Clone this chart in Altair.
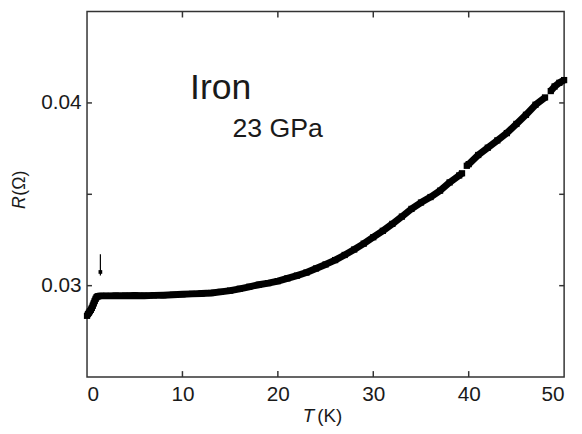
import altair as alt
import pandas as pd

# ---- data ----
T_vals = [0.0, 0.1, 0.2, 0.3, 0.4, 0.5, 0.6, 0.7, 0.8, 0.9, 1.0, 1.1, 1.2, 1.5,
          2, 3, 4, 5, 6, 7, 8, 9, 10, 11, 12, 13, 14, 15, 16, 17, 18, 19, 20,
          21, 22, 23, 24, 25, 26, 27, 28, 29, 30, 31, 32, 33, 34, 35, 36, 37,
          38, 39, 39.3,
          39.8, 40, 41, 42, 43, 44, 45, 46, 47, 48,
          48.6, 49, 49.5, 50]
R_vals = [0.02835, 0.02845, 0.02852, 0.02860, 0.02868, 0.02878, 0.02890, 0.02903,
          0.02916, 0.02928, 0.02937, 0.02941, 0.02943, 0.02944,
          0.02944, 0.02945, 0.02945, 0.02946, 0.02945, 0.02947, 0.02948, 0.02950,
          0.02953, 0.02955, 0.02957, 0.02960, 0.02966, 0.02973, 0.02983, 0.02994,
          0.03005, 0.03014, 0.03025, 0.03040, 0.03055, 0.03072, 0.03094, 0.03116,
          0.03140, 0.03168, 0.03198, 0.03230, 0.03265, 0.03300, 0.03338, 0.03378,
          0.03420, 0.03455, 0.03485, 0.03520, 0.03565, 0.03603, 0.03615,
          0.03656, 0.03665, 0.03715, 0.03755, 0.03795, 0.03835, 0.03885, 0.03935,
          0.03990, 0.04030,
          0.04065, 0.04090, 0.04110, 0.04125]
SEG = [1] * 53 + [2] * 10 + [3] * 4

x_ticks = [0, 10, 20, 30, 40, 50]
y_ticks = [0.03, 0.04]
x_inner_ticks = [10, 20, 30, 40]
y_inner_ticks = [0.03, 0.035, 0.04]

arrow_T = [1.4]
arrow_R_top = [0.03172]
arrow_R_bottom = [0.03055]
arrow_head_R = [0.03075]

label_main = "Iron"
label_main_T, label_main_R = 10.8, 0.0402
label_sub = "23 GPa"
label_sub_T, label_sub_R = 15.25, 0.03814

# ---- chart ----
W, H = 483, 370
FONT = "Liberation Sans"
TXT = "#1a1a1a"
FRAME = "#333333"

df = pd.DataFrame({"T": T_vals, "R": R_vals, "seg": SEG})

xs = alt.Scale(domain=[0, 50], nice=False, zero=False)
ys = alt.Scale(domain=[0.025, 0.045], nice=False, zero=False)

x_axis = alt.Axis(values=x_ticks, ticks=False, domain=False, grid=False,
                  labelFontSize=21, labelPadding=7, labelColor=TXT,
                  labelFont=FONT, title=None)
y_axis = alt.Axis(values=y_ticks, format=".2f", ticks=False, domain=False,
                  grid=False, labelFontSize=21, labelPadding=6,
                  labelColor=TXT, labelFont=FONT, title=None)

X = alt.X("T:Q", scale=xs, axis=x_axis)
Y = alt.Y("R:Q", scale=ys, axis=y_axis)

line = alt.Chart(df).mark_line(color="black", strokeWidth=7,
                               strokeJoin="round").encode(x=X, y=Y, detail="seg:N")
pts = alt.Chart(df).mark_square(color="black", size=40, opacity=1).encode(x=X, y=Y)

dxt = pd.DataFrame({"T": x_inner_ticks})
dyt = pd.DataFrame({"R": y_inner_ticks})
tick_b = alt.Chart(dxt).mark_rule(color=FRAME, strokeWidth=1.5).encode(
    x=X, y=alt.value(H), y2=alt.value(H - 6))
tick_t = alt.Chart(dxt).mark_rule(color=FRAME, strokeWidth=1.5).encode(
    x=X, y=alt.value(0), y2=alt.value(6))
tick_l = alt.Chart(dyt).mark_rule(color=FRAME, strokeWidth=1.5).encode(
    y=Y, x=alt.value(0), x2=alt.value(5))
tick_r = alt.Chart(dyt).mark_rule(color=FRAME, strokeWidth=1.5).encode(
    y=Y, x=alt.value(W), x2=alt.value(W - 5))

dar = pd.DataFrame({"T": arrow_T, "R": arrow_R_top, "R2": arrow_R_bottom})
arrow = alt.Chart(dar).mark_rule(color="black", strokeWidth=1.2).encode(
    x=X, y=Y, y2="R2:Q")
dah = pd.DataFrame({"T": arrow_T, "R": arrow_head_R})
arrow_head = alt.Chart(dah).mark_square(color="black", size=14, opacity=1).encode(x=X, y=Y)

dlab = pd.DataFrame({"T": [label_main_T], "R": [label_main_R], "t": [label_main]})
lab1 = alt.Chart(dlab).mark_text(font=FONT, fontSize=36, color=TXT, align="left",
                                 baseline="alphabetic").encode(x=X, y=Y, text="t:N")
dlab2 = pd.DataFrame({"T": [label_sub_T], "R": [label_sub_R], "t": [label_sub]})
lab2 = alt.Chart(dlab2).mark_text(font=FONT, fontSize=27, color=TXT, align="left",
                                  baseline="alphabetic").encode(x=X, y=Y, text="t:N")

one = pd.DataFrame({"a": [0]})
xt1 = alt.Chart(one).mark_text(font=FONT, fontSize=19, fontStyle="italic", color=TXT,
                               align="left", baseline="alphabetic").encode(
    x=alt.value(218.5), y=alt.value(416), text=alt.value("T"))
xt2 = alt.Chart(one).mark_text(font=FONT, fontSize=19, color=TXT,
                               align="left", baseline="alphabetic").encode(
    x=alt.value(233), y=alt.value(416), text=alt.value("(K)"))
yt1 = alt.Chart(one).mark_text(font=FONT, fontSize=18, fontStyle="italic", color=TXT,
                               align="left", baseline="alphabetic", angle=270).encode(
    x=alt.value(-63), y=alt.value(200), text=alt.value("R"))
yt2 = alt.Chart(one).mark_text(font=FONT, fontSize=18, color=TXT,
                               align="left", baseline="alphabetic", angle=270).encode(
    x=alt.value(-63), y=alt.value(186.5), text=alt.value("(Ω)"))

chart = alt.layer(line, pts, tick_b, tick_t, tick_l, tick_r, arrow, arrow_head,
                  lab1, lab2, xt1, xt2, yt1, yt2).properties(
    width=W, height=H,
    padding={"left": 80, "top": 1, "right": 10, "bottom": 50},
    autosize=alt.AutoSizeParams(type="none"),
    background="white",
).configure_view(stroke=FRAME, strokeWidth=1.5)

chart.save("out.html", embed_options={"renderer": "svg", "actions": False})
